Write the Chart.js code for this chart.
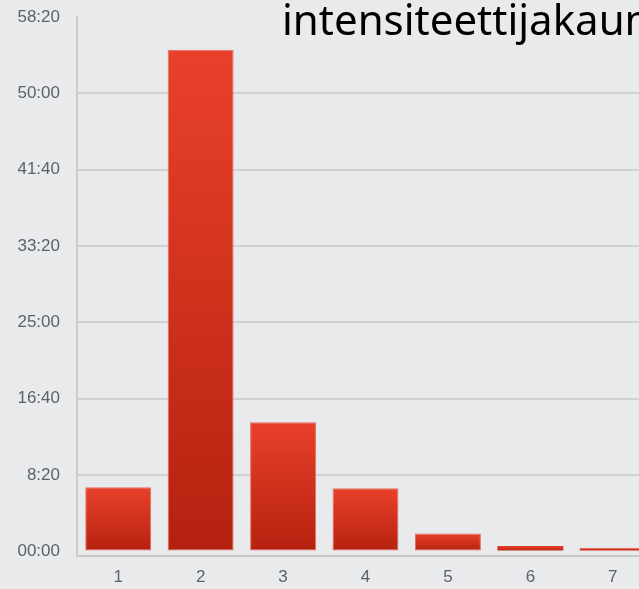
<!DOCTYPE html>
<html>
<head>
<meta charset="utf-8">
<script src="https://cdn.jsdelivr.net/npm/chart.js@4.4.1/dist/chart.umd.min.js"></script>
<style>
  html, body { margin: 0; padding: 0; background: #e9eaec; overflow: hidden; }
  #wrap { position: relative; width: 660px; height: 589px; }
  #title {
    position: absolute; left: 282px; top: -2px;
    font-family: "Noto Sans", sans-serif; font-size: 42px; line-height: 1;
    color: #000; white-space: nowrap;
  }
</style>
</head>
<body>
<div id="wrap">
  <canvas id="chart" width="660" height="589"></canvas>
  <div id="title">intensiteettijakauma</div>
</div>
<script>
// intensity zones
const zones = ['1', '2', '3', '4', '5', '6', '7'];
// time spent in each zone, seconds
const secondsInZone = [420, 3285, 846, 414, 118, 36, 20];
// y axis ticks, seconds (shown as mm:ss)
const tickSeconds = [0, 500, 1000, 1500, 2000, 2500, 3000, 3500];

const pad = (n) => String(n).padStart(2, '0');
const formatTime = (s) => s === 0 ? '00:00' : Math.floor(s / 60) + ':' + pad(s % 60);

// each bar gets its own top->bottom gradient
const barFill = (ctx) => {
  const chart = ctx.chart;
  const y = chart.scales.y;
  if (!y || ctx.type !== 'data') return '#d0321e';
  const top = y.getPixelForValue(ctx.raw);
  const base = y.getPixelForValue(0);
  if (!isFinite(top) || !isFinite(base) || top === base) return '#d0321e';
  const g = chart.ctx.createLinearGradient(0, top, 0, base);
  g.addColorStop(0, '#e9412b');
  g.addColorStop(1, '#b5210f');
  return g;
};

// thin bars lose their fill to the edge, so drop it there
const barEdge = (ctx) => (ctx.raw < 60 ? 0 : 1);

const tickFont = { family: '"Liberation Sans", Arial, sans-serif', size: 17 };

new Chart(document.getElementById('chart'), {
  type: 'bar',
  data: {
    labels: zones,
    datasets: [{
      data: secondsInZone,
      backgroundColor: barFill,
      borderColor: 'rgba(228, 88, 70, 0.85)',
      borderWidth: barEdge,
      borderSkipped: false,
      barPercentage: 0.8,
      categoryPercentage: 1.0,
    }],
  },
  options: {
    responsive: false,
    animation: false,
    layout: { padding: { top: 17, right: 6, bottom: 0, left: 0 } },
    plugins: {
      legend: { display: false },
      tooltip: { enabled: false },
    },
    scales: {
      x: {
        afterFit: (scale) => { scale.height = 33; },
        grid: { display: false, drawTicks: false },
        border: { display: true, color: '#c7c8ca', width: 2 },
        ticks: { color: '#5c616c', font: tickFont, padding: 11 },
      },
      y: {
        min: -30,
        max: 3500,
        afterBuildTicks: (scale) => {
          scale.ticks = tickSeconds.map((v) => ({ value: v }));
        },
        afterFit: (scale) => { scale.width = 77; },
        grid: {
          drawTicks: true,
          tickLength: 17,
          tickColor: 'rgba(0,0,0,0)',
          lineWidth: 2,
          color: (ctx) => (ctx.tick && (ctx.tick.value === 0 || ctx.tick.value === 3500)) ? 'rgba(0,0,0,0)' : '#d0d1d3',
        },
        border: { display: true, color: '#cbccce', width: 2 },
        ticks: {
          color: '#5c616c',
          font: tickFont,
          padding: 0,
          callback: (v) => formatTime(v),
        },
      },
    },
  },
});
</script>
</body>
</html>
